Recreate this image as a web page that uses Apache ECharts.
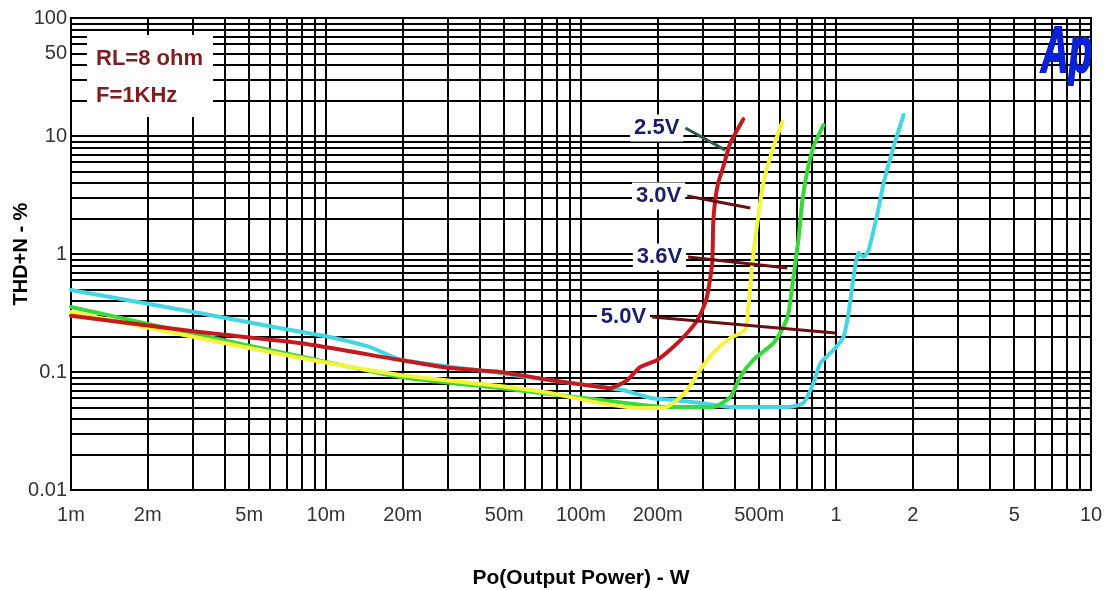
<!DOCTYPE html>
<html>
<head>
    <meta charset="utf-8">
    <title>THD+N vs Po</title>
    <script type="text/javascript" src="https://cdn.jsdelivr.net/npm/echarts@6/dist/echarts.min.js"></script>
    <style>
        html, body { margin: 0; padding: 0; background: #fff; }
    </style>
</head>
<body>

<div id="main" style="width: 1106px;height:590px;"></div>
<script type="text/javascript">
    // 数据 [Po(W), THD+N(%)]
    var thd25 = [[0.001, 0.30], [0.00318, 0.218], [0.00787, 0.176], [0.0195, 0.1265], [0.0306, 0.108], [0.048, 0.1], [0.0755, 0.0855], [0.119, 0.0745], [0.130, 0.073], [0.152, 0.0855], [0.1705, 0.110], [0.199, 0.1265], [0.230, 0.163], [0.261, 0.214], [0.286, 0.276], [0.307, 0.385], [0.3155, 0.495], [0.327, 0.839], [0.330, 1.83], [0.336, 2.87], [0.345, 4.0], [0.361, 5.46], [0.385, 8.73], [0.410, 11.25], [0.433, 13.9]];
    var thd30 = [[0.001, 0.322], [0.00318, 0.194], [0.00787, 0.132], [0.0195, 0.0944], [0.048, 0.0762], [0.0755, 0.0665], [0.119, 0.0546], [0.1705, 0.0495], [0.210, 0.0495], [0.230, 0.0546], [0.261, 0.0704], [0.2935, 0.104], [0.330, 0.145], [0.385, 0.194], [0.44, 0.227], [0.453, 0.356], [0.470, 0.839], [0.4915, 1.83], [0.519, 4.0], [0.563, 7.61], [0.616, 13.15]];
    var thd36 = [[0.001, 0.356], [0.00318, 0.206], [0.00787, 0.136], [0.0195, 0.0908], [0.048, 0.0732], [0.0755, 0.065], [0.119, 0.058], [0.218, 0.0505], [0.330, 0.0505], [0.385, 0.0614], [0.421, 0.0908], [0.474, 0.1265], [0.568, 0.176], [0.622, 0.2406], [0.651, 0.316], [0.681, 0.638], [0.712, 1.315], [0.7385, 2.87], [0.773, 5.15], [0.816, 8.07], [0.893, 12.4]];
    var thd50 = [[0.001, 0.495], [0.00318, 0.316], [0.00656, 0.236], [0.0103, 0.198], [0.0148, 0.163], [0.0195, 0.128], [0.048, 0.098], [0.0755, 0.085], [0.119, 0.075], [0.146, 0.0704], [0.187, 0.0603], [0.230, 0.058], [0.2935, 0.0546], [0.396, 0.0505], [0.645, 0.0505], [0.745, 0.0546], [0.816, 0.0807], [0.869, 0.119], [0.978, 0.1536], [1.07, 0.198], [1.12, 0.316], [1.172, 0.638], [1.226, 1.02], [1.283, 0.944], [1.342, 1.08], [1.456, 2.23], [1.537, 4.0], [1.682, 8.07], [1.842, 15.07]];

    // 刻度
    var xTickValues = [0.001, 0.002, 0.005, 0.01, 0.02, 0.05, 0.1, 0.2, 0.5, 1, 2, 5, 10];
    var xTickLabels = ['1m', '2m', '5m', '10m', '20m', '50m', '100m', '200m', '500m', '1', '2', '5', '10'];
    var yTickValues = [0.01, 0.1, 1, 10, 50, 100];
    var yTickLabels = ['0.01', '0.1', '1', '10', '50', '100'];
    var xGridValues = [0.002, 0.003, 0.004, 0.005, 0.006, 0.007, 0.008, 0.009,
        0.02, 0.03, 0.04, 0.05, 0.06, 0.07, 0.08, 0.09,
        0.2, 0.3, 0.4, 0.5, 0.6, 0.7, 0.8, 0.9,
        2, 3, 4, 5, 6, 7, 8, 9];
    var yGridValues = [0.02, 0.03, 0.04, 0.05, 0.06, 0.07, 0.08, 0.09,
        0.2, 0.3, 0.4, 0.5, 0.6, 0.7, 0.8, 0.9,
        2, 3, 4, 5, 6, 7, 8, 9,
        20, 30, 40, 50, 60, 70, 80, 90];

    // 电压标注 [标签起点, 引线终点]
    var voltNames = ['2.5V', '3.0V', '3.6V', '5.0V'];
    var leaderFrom = [[0.2566, 11.7], [0.261, 3.10], [0.263, 0.944], [0.190, 0.292]];
    var leaderTo = [[0.368, 7.6], [0.461, 2.45], [0.644, 0.76], [0.995, 0.214]];
    var leaderColors = ['#2c5a4c', '#6a1010', '#6a1010', '#6a1010'];

    function pickLabel(values, labels, v) {
        for (var i = 0; i < values.length; i++) {
            if (Math.abs(Math.log10(v / values[i])) < 0.005) return labels[i];
        }
        return '';
    }

    var labelFont = "'Liberation Sans Narrow', 'Liberation Sans', Arial, sans-serif";
    var myChart = echarts.init(document.getElementById('main'));

    var gridLines = [];
    xGridValues.forEach(function (v) { gridLines.push({ xAxis: v }); });
    yGridValues.forEach(function (v) { gridLines.push({ yAxis: v }); });

    var leaders = voltNames.map(function (n, i) {
        return [
            { coord: leaderFrom[i], lineStyle: { color: leaderColors[i], width: 3, type: 'solid' } },
            { coord: leaderTo[i] }
        ];
    });
    var voltLabels = voltNames.map(function (n, i) {
        return { name: n, coord: leaderFrom[i] };
    });

    function curve(name, data, color, z) {
        return {
            name: name,
            type: 'line',
            data: data,
            showSymbol: false,
            smooth: 0.2,
            z: z,
            silent: true,
            lineStyle: { color: color, width: 4, cap: 'round', join: 'round' }
        };
    }

    var option = {
        animation: false,
        grid: {
            left: 71, right: 15, top: 18, bottom: 100,
            outerBoundsMode: 'none',
            containLabel: false,
            show: true, borderColor: '#000', borderWidth: 2, backgroundColor: '#fff'
        },
        xAxis: {
            type: 'log',
            logBase: 10,
            min: 0.001,
            max: 10,
            name: 'Po(Output Power) - W',
            nameLocation: 'middle',
            nameGap: 78,
            nameMoveOverlap: false,
            nameTextStyle: { color: '#000', fontSize: 21, fontWeight: 'bold', fontFamily: 'Liberation Sans, Arial, sans-serif' },
            axisLine: { show: true, lineStyle: { color: '#000', width: 2 } },
            axisTick: { show: false },
            splitLine: { show: true, lineStyle: { color: '#000', width: 2 } },
            axisLabel: {
                customValues: xTickValues,
                margin: 15,
                color: '#333',
                fontSize: 20,
                fontFamily: labelFont,
                formatter: function (v) { return pickLabel(xTickValues, xTickLabels, v); }
            }
        },
        yAxis: {
            type: 'log',
            logBase: 10,
            min: 0.01,
            max: 100,
            name: 'THD+N - %',
            nameLocation: 'middle',
            nameGap: 40,
            nameMoveOverlap: false,
            nameRotate: 90,
            nameTextStyle: { color: '#000', fontSize: 20, fontWeight: 'bold', fontFamily: 'Liberation Sans, Arial, sans-serif' },
            axisLine: { show: true, lineStyle: { color: '#000', width: 2 } },
            axisTick: { show: false },
            splitLine: { show: true, lineStyle: { color: '#000', width: 2 } },
            axisLabel: {
                customValues: yTickValues,
                margin: 4,
                color: '#333',
                fontSize: 20,
                fontFamily: labelFont,
                formatter: function (v) { return pickLabel(yTickValues, yTickLabels, v); }
            }
        },
        series: [
            {
                // 次网格线
                type: 'line',
                data: [],
                silent: true,
                z: 1,
                markLine: {
                    z: 1,
                    silent: true,
                    symbol: 'none',
                    precision: 10,
                    animation: false,
                    label: { show: false },
                    emphasis: { disabled: true },
                    lineStyle: { color: '#000', width: 2, type: 'solid' },
                    data: gridLines
                }
            },
            curve('5.0V', thd50, '#44d6e2', 2),
            curve('3.6V', thd36, '#3ad83a', 3),
            curve('3.0V', thd30, '#f4f43a', 4),
            curve('2.5V', thd25, '#c41a1f', 5),
            {
                // 标注
                type: 'line',
                data: [],
                silent: true,
                z: 6,
                markLine: {
                    z: 6,
                    silent: true,
                    symbol: 'none',
                    animation: false,
                    label: { show: false },
                    emphasis: { disabled: true },
                    data: leaders
                },
                markPoint: {
                    z: 7,
                    silent: true,
                    symbol: 'rect',
                    symbolSize: 0,
                    animation: false,
                    label: {
                        show: true,
                        position: 'left',
                        distance: 2,
                        formatter: '{b}',
                        color: '#1c1c6a',
                        fontSize: 22,
                        fontWeight: 'bold',
                        fontFamily: 'Liberation Sans, Arial, sans-serif',
                        backgroundColor: '#fff',
                        padding: [3, 4, 2, 4]
                    },
                    data: voltLabels
                }
            }
        ],
        graphic: [
            {
                type: 'rect',
                z: 100,
                shape: { x: 87, y: 35, width: 126, height: 82 },
                style: { fill: '#fff' }
            },
            {
                type: 'text',
                z: 101,
                left: 96,
                top: 40,
                style: {
                    text: 'RL=8 ohm\nF=1KHz',
                    fill: '#7c1e22',
                    font: "bold 22px 'Liberation Sans', Arial, sans-serif",
                    lineHeight: 37
                }
            },
            {
                type: 'text',
                z: 101,
                x: 1041,
                y: 22,
                scaleX: 0.6,
                style: {
                    text: 'Ap',
                    fill: '#0a22d4',
                    stroke: '#0a22d4',
                    lineWidth: 2,
                    font: "italic bold 64px 'Liberation Sans', Arial, sans-serif"
                }
            }
        ]
    };

    myChart.setOption(option);
</script>

</body>
</html>
